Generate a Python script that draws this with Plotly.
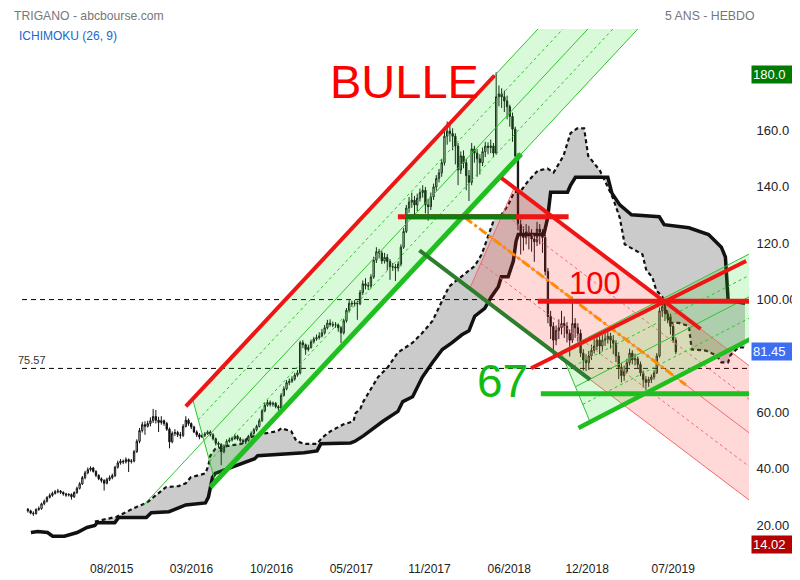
import plotly.graph_objects as go

# ---------------- weekly candles (bar index 0..238) ----------------
OPEN = [25.6, 25.0, 24.2, 24.0, 25.5, 25.8, 27.5, 28.4, 29.8, 30.5,
        31.2, 31.8, 32.0, 31.6, 31.0, 30.6, 30.8, 30.0, 31.5, 33.0,
        34.6, 36.8, 38.5, 39.6, 40.2, 39.0, 37.6, 36.4, 35.8, 34.8,
        36.2, 36.8, 37.5, 40.5, 42.0, 42.6, 42.4, 43.2, 42.5, 42.7,
        46.0, 49.7, 53.5, 55.6, 55.0, 56.0, 57.0, 58.5, 57.2, 56.4,
        57.0, 56.0, 54.0, 49.5, 52.5, 52.8, 52.0, 51.8, 55.0, 57.2,
        56.0, 54.8, 53.0, 52.0, 51.2, 51.8, 52.3, 53.0, 52.0, 50.6,
        49.0, 48.6, 46.0, 48.0, 49.7, 50.2, 50.7, 51.5, 50.6, 50.0,
        49.5, 50.0, 51.5, 52.5, 53.8, 55.0, 57.0, 60.5, 62.5, 63.5,
        62.8, 63.2, 62.0, 61.5, 66.0, 68.3, 70.5, 71.0, 71.8, 73.2,
        74.0, 84.7, 84.0, 82.3, 83.0, 85.0, 86.0, 86.5, 87.1, 88.2,
        90.0, 91.7, 91.2, 91.0, 91.0, 90.0, 88.2, 92.5, 96.2, 98.7,
        98.5, 98.8, 98.5, 102.5, 105.6, 105.0, 104.8, 108.0, 114.0, 117.0,
        116.5, 113.7, 115.0, 113.5, 111.6, 111.6, 111.2, 112.6, 118.6, 124.2,
        132.5, 134.6, 135.3, 133.6, 136.0, 138.0, 138.8, 133.6, 133.0, 136.5,
        140.0, 143.0, 145.0, 148.6, 158.0, 159.8, 159.0, 158.0, 154.5, 146.0,
        151.0, 148.6, 144.0, 141.6, 153.5, 152.0, 150.0, 148.6, 152.5, 154.5,
        154.0, 154.5, 152.0, 172.0, 173.0, 172.0, 170.5, 168.5, 165.0, 160.5,
        151.0, 126.6, 123.0, 122.0, 124.0, 123.0, 121.5, 120.5, 125.0, 124.0,
        122.0, 110.0, 94.0, 90.5, 85.6, 89.0, 90.0, 91.5, 90.5, 88.0,
        85.6, 91.5, 90.0, 88.0, 81.0, 78.6, 77.6, 80.0, 82.0, 83.5,
        85.6, 83.5, 85.6, 86.0, 87.0, 85.6, 84.5, 80.0, 76.0, 73.0,
        74.5, 77.6, 81.0, 78.6, 79.0, 77.0, 74.0, 71.6, 70.6, 71.6,
        72.5, 74.0, 80.0, 96.0, 97.5, 95.0, 94.0, 90.5, 85.6]
HIGH = [26.0, 25.4, 24.8, 25.9, 26.6, 27.9, 29.0, 30.2, 31.2, 31.8,
        32.4, 32.8, 32.4, 31.9, 31.4, 31.3, 31.2, 31.9, 33.6, 35.2,
        37.4, 39.2, 40.4, 40.8, 40.6, 39.4, 38.0, 36.9, 36.2, 36.8,
        37.6, 38.2, 41.0, 42.8, 43.4, 43.2, 44.0, 43.6, 43.4, 46.6,
        50.4, 54.4, 56.6, 56.8, 57.0, 58.2, 61.2, 60.8, 58.4, 58.6,
        57.4, 56.6, 54.6, 53.2, 54.0, 53.4, 53.0, 55.8, 58.6, 57.8,
        56.4, 55.2, 53.6, 52.6, 52.4, 53.0, 53.6, 53.6, 52.6, 51.0,
        49.6, 49.0, 48.6, 50.4, 51.0, 51.4, 52.2, 52.0, 51.2, 50.6,
        50.6, 52.0, 53.2, 54.4, 55.6, 57.8, 61.2, 63.4, 64.4, 64.2,
        63.8, 63.6, 62.6, 66.8, 69.2, 71.4, 72.0, 72.8, 74.0, 75.0,
        85.4, 85.6, 84.4, 84.0, 85.8, 86.8, 87.6, 88.4, 89.6, 91.0,
        92.8, 93.0, 92.2, 92.0, 91.4, 90.6, 93.2, 97.0, 99.8, 99.6,
        99.8, 99.6, 103.4, 106.8, 107.6, 106.2, 109.0, 115.2, 118.6, 118.0,
        117.4, 116.6, 116.2, 114.4, 113.0, 112.6, 113.6, 119.6, 125.4, 133.6,
        136.4, 138.0, 136.8, 137.6, 139.4, 140.6, 140.0, 135.8, 138.0, 141.2,
        144.2, 146.4, 150.0, 160.6, 163.2, 162.0, 160.8, 159.0, 155.6, 152.6,
        153.0, 150.0, 146.0, 155.6, 154.6, 153.4, 151.6, 154.0, 156.0, 155.8,
        156.8, 155.6, 180.7, 176.0, 175.0, 174.2, 172.4, 169.2, 166.4, 161.4,
        152.0, 128.4, 126.0, 126.8, 126.2, 125.0, 123.4, 127.6, 126.8, 125.0,
        123.0, 111.2, 96.0, 92.0, 90.8, 93.0, 96.0, 94.0, 92.0, 89.4,
        101.0, 93.4, 91.6, 89.4, 82.4, 80.6, 81.8, 84.0, 86.0, 87.2,
        87.0, 87.4, 88.4, 89.6, 88.2, 87.4, 85.6, 81.4, 77.4, 76.6,
        79.0, 82.6, 82.0, 80.8, 79.8, 78.0, 74.8, 72.8, 72.6, 73.4,
        75.0, 81.0, 97.2, 99.8, 98.4, 96.2, 95.0, 91.4, 86.6]
LOW = [24.4, 23.8, 23.2, 23.7, 25.0, 25.4, 27.0, 28.0, 29.4, 30.0,
       30.8, 31.2, 31.0, 30.4, 30.0, 30.1, 29.0, 29.6, 31.0, 32.6,
       34.2, 36.2, 38.0, 39.0, 38.6, 37.0, 35.9, 35.0, 32.2, 34.4,
       35.6, 36.2, 37.0, 40.0, 41.4, 41.6, 41.8, 38.8, 41.8, 42.2,
       45.6, 49.0, 52.8, 52.0, 54.6, 55.0, 56.2, 56.0, 53.0, 55.6,
       55.2, 53.4, 47.2, 49.0, 51.6, 51.2, 50.6, 51.2, 54.6, 55.2,
       54.0, 52.6, 51.2, 50.4, 50.8, 51.2, 52.0, 51.4, 50.0, 48.2,
       47.4, 41.2, 45.4, 47.6, 49.2, 49.6, 50.2, 50.0, 49.2, 48.8,
       48.8, 49.6, 51.0, 52.0, 53.2, 54.6, 56.6, 60.0, 62.0, 62.0,
       62.0, 61.4, 60.6, 61.0, 65.6, 67.8, 69.6, 70.4, 71.2, 72.6,
       73.4, 82.8, 80.4, 81.6, 82.6, 84.4, 85.4, 85.8, 86.6, 87.6,
       89.4, 90.4, 90.2, 90.0, 88.6, 84.6, 87.6, 91.8, 95.4, 97.4,
       97.6, 92.8, 98.0, 101.6, 103.6, 103.4, 104.0, 107.4, 113.0, 114.6,
       112.6, 112.8, 110.4, 107.0, 110.2, 106.6, 110.0, 111.8, 118.0, 123.6,
       130.8, 132.6, 129.6, 131.4, 134.8, 136.2, 130.6, 128.0, 131.8, 135.4,
       138.6, 141.6, 143.6, 147.6, 155.0, 156.0, 153.0, 148.0, 140.6, 144.6,
       146.6, 138.8, 135.0, 140.6, 148.6, 143.6, 144.4, 147.4, 150.6, 151.6,
       152.0, 150.6, 151.4, 168.6, 168.0, 166.6, 164.0, 161.4, 156.0, 149.6,
       124.6, 116.0, 117.4, 119.6, 117.8, 117.0, 113.4, 119.0, 119.6, 116.6,
       108.6, 91.6, 86.0, 80.4, 83.8, 86.0, 87.6, 86.4, 84.8, 79.8,
       84.6, 86.4, 85.0, 79.6, 74.8, 74.6, 75.0, 78.6, 80.8, 82.0,
       80.6, 81.8, 83.6, 84.4, 82.6, 80.6, 77.8, 71.8, 70.6, 71.2,
       73.8, 76.6, 77.0, 76.6, 75.6, 72.8, 68.8, 67.8, 69.0, 70.4,
       71.6, 73.6, 79.4, 93.8, 92.4, 91.6, 87.6, 84.6, 80.6]
CLOSE = [25.0, 24.2, 24.0, 25.5, 25.8, 27.5, 28.4, 29.8, 30.5, 31.2,
         31.8, 32.0, 31.6, 31.0, 30.6, 30.8, 30.0, 31.5, 33.0, 34.6,
         36.8, 38.5, 39.6, 40.2, 39.0, 37.6, 36.4, 35.8, 34.8, 36.2,
         36.8, 37.5, 40.5, 42.0, 42.6, 42.4, 43.2, 42.5, 42.7, 46.0,
         49.7, 53.5, 55.6, 55.0, 56.0, 57.0, 58.5, 57.2, 56.4, 57.0,
         56.0, 54.0, 49.5, 52.5, 52.8, 52.0, 51.8, 55.0, 57.2, 56.0,
         54.8, 53.0, 52.0, 51.2, 51.8, 52.3, 53.0, 52.0, 50.6, 49.0,
         48.6, 46.0, 48.0, 49.7, 50.2, 50.7, 51.5, 50.6, 50.0, 49.5,
         50.0, 51.5, 52.5, 53.8, 55.0, 57.0, 60.5, 62.5, 63.5, 62.8,
         63.2, 62.0, 61.5, 66.0, 68.3, 70.5, 71.0, 71.8, 73.2, 74.0,
         84.7, 84.0, 82.3, 83.0, 85.0, 86.0, 86.5, 87.1, 88.2, 90.0,
         91.7, 91.2, 91.0, 91.0, 90.0, 88.2, 92.5, 96.2, 98.7, 98.5,
         98.8, 98.5, 102.5, 105.6, 105.0, 104.8, 108.0, 114.0, 117.0, 116.5,
         113.7, 115.0, 113.5, 111.6, 111.6, 111.2, 112.6, 118.6, 124.2, 132.5,
         134.6, 135.3, 133.6, 136.0, 138.0, 138.8, 133.6, 133.0, 136.5, 140.0,
         143.0, 145.0, 148.6, 158.0, 159.8, 159.0, 158.0, 154.5, 146.0, 151.0,
         148.6, 144.0, 141.6, 153.5, 152.0, 150.0, 148.6, 152.5, 154.5, 154.0,
         154.5, 152.0, 172.0, 173.0, 172.0, 170.5, 168.5, 165.0, 160.5, 151.0,
         126.6, 123.0, 122.0, 124.0, 123.0, 121.5, 120.5, 125.0, 124.0, 122.0,
         110.0, 94.0, 90.5, 85.6, 89.0, 90.0, 91.5, 90.5, 88.0, 85.6,
         91.5, 90.0, 88.0, 81.0, 78.6, 77.6, 80.0, 82.0, 83.5, 85.6,
         83.5, 85.6, 86.0, 87.0, 85.6, 84.5, 80.0, 76.0, 73.0, 74.5,
         77.6, 81.0, 78.6, 79.0, 77.0, 74.0, 71.6, 70.6, 71.6, 72.5,
         74.0, 80.0, 96.0, 97.5, 95.0, 94.0, 90.5, 85.6, 81.45]
BAR = list(range(len(CLOSE)))

# ---------------- Ichimoku spans (bar index, price) ----------------
SPAN_B_X = [1.1, 3.6, 7.2, 9.1, 13.4, 18.1, 21.7, 24.6, 25.4, 31.9, 33.3, 43.5, 45.3, 51.8, 58.0,
            65.2, 66.3, 67.8, 68.8, 73.6, 79.7, 83.3, 84.4, 96.7, 101.4, 106.2, 107.6, 118.5, 120.3,
            123.2, 130.4, 135.9, 137.7, 141.3, 144.9, 148.6, 152.2, 155.8, 159.4, 162.0, 164.1, 167.8,
            170.3, 172.8, 173.9, 176.4, 178.3, 179.3, 180.1, 189.5, 190.9, 192.0, 198.2, 199.3, 201.1,
            213.0, 214.5, 217.4, 221.7, 231.9, 233.7, 242.8, 250.0, 252.5, 254.7, 256.2, 257.2, 263.4]
SPAN_B_Y = [17.3, 17.7, 17.3, 16.0, 16.0, 17.3, 19.1, 19.8, 20.8, 20.8, 22.6, 22.6, 24.3, 24.7, 27.1,
            27.8, 29.9, 36.9, 38.3, 40.0, 42.1, 43.5, 44.6, 45.3, 45.6, 46.3, 48.8, 49.1, 49.8,
            51.6, 56.8, 60.3, 63.8, 65.5, 72.5, 77.7, 82.3, 84.7, 87.5, 88.9, 94.1, 96.9,
            101.1, 104.6, 108.1, 108.1, 113.7, 120.7, 123.1, 123.1, 129.0, 138.1, 138.1, 140.6, 143.4,
            143.4, 137.8, 133.6, 130.1, 129.4, 126.6, 125.5, 123.1, 120.7, 118.6, 115.1, 99.7, 98.7]
SPAN_A_X = [24.6, 32.6, 39.9, 43.5, 47.1, 50.7, 55.4, 58.0, 59.8, 65.2, 66.3, 67.0, 68.8, 73.6, 78.6,
            80.8, 85.9, 91.7, 93.1, 96.7, 98.6, 101.4, 106.2, 108.0, 111.2, 113.4, 115.9, 119.6, 120.3,
            122.1, 123.2, 128.6, 132.2, 135.9, 141.3, 144.9, 148.6, 152.2, 154.7, 156.9, 162.0, 164.1,
            166.7, 169.2, 171.4, 173.9, 176.4, 178.6, 181.2, 183.7, 187.3, 190.9, 193.1, 196.7, 198.2,
            199.3, 201.8, 204.3, 205.8, 210.1, 212.7, 214.9, 217.4, 219.2, 223.6, 225.7, 227.2, 229.3,
            230.8, 233.0, 235.5, 239.1, 242.8, 243.8, 248.9, 252.9, 254.7, 257.2, 258.0, 260.9, 263.4]
SPAN_A_Y = [21.2, 22.9, 26.4, 27.8, 30.6, 33.4, 33.8, 34.8, 36.9, 38.3, 41.1, 44.6, 47.0, 48.1, 48.8,
            50.9, 52.3, 53.3, 54.3, 53.3, 49.8, 48.8, 48.8, 50.9, 53.3, 54.3, 55.7, 56.8, 59.6,
            61.3, 63.8, 72.5, 76.0, 81.2, 84.7, 88.2, 92.4, 99.7, 104.6, 106.4, 110.2, 111.9,
            116.1, 123.1, 129.0, 130.1, 133.6, 138.1, 138.8, 142.0, 145.8, 146.5, 145.1, 151.0, 155.6,
            159.1, 160.8, 160.8, 151.0, 145.8, 140.6, 136.0, 129.0, 119.6, 117.2, 116.1, 110.2, 108.1,
            103.2, 101.1, 91.7, 91.7, 90.6, 82.3, 81.9, 80.2, 77.7, 77.7, 80.2, 83.0, 83.0]

# ---------------- axis labels ----------------
X_TICK_POS = [30.8, 60.1, 89.5, 118.8, 147.5, 176.8, 205.4, 237.0]
X_TICK_TEXT = ["08/2015", "03/2016", "10/2016", "05/2017", "11/2017", "06/2018", "12/2018", "07/2019"]
Y_TICK_VALS = [20, 40, 60, 100, 120, 140, 160]
Y_TICK_TEXT = ["20.00", "40.00", "60.00", "100.00", "120.0", "140.0", "160.0"]
PRICE_HIGH = 180.0
PRICE_LAST = 81.45
PRICE_LOW = 14.02
REF_LEVELS = [100.0, 75.57]

# ---------------- hand-drawn analysis (bar index, price) ----------------
# channels: lower edge through two points, vertical width, [left-top i, left-bottom i, right i]
CH1_BOTTOM = [[67.0, 33.4], [181.2, 151.7]]
CH1_WIDTH = 38.0
CH1_EXTENT = [60.5, 68.8, 226.0]
CH1_CENTER_START = 42.4
CH1_RED_TOP = [58.0, 171.4]
CH1_GREEN_BOTTOM = [67.0, 181.2]

CH2_BOTTOM = [[143.8, 117.5], [264.86, 28.87]]
CH2_WIDTH = 47.7
CH2_EXTENT = [178.6, 162.3, 265.5]
CH2_RED_TOP = [173.9, 247.1]
CH2_DKGREEN_BOTTOM = [143.8, 206.5]
CH2_ORANGE_CENTER = [160.5, 241.7]

CH3_BOTTOM = [[202.2, 54.4], [264.86, 85.76]]
CH3_WIDTH = 30.4
CH3_EXTENT = [195.7, 206.5, 265.5]
CH3_GREEN_BOTTOM = [202.2, 265.5]

H_RED_TOP = [135.9, 198.6, 129.4]
H_GREEN_TOP = [138.8, 179.3, 129.4]
H_RED_100 = [187.3, 265.5, 99.4]
H_GREEN_67 = [188.4, 265.5, 66.6]
RED_RISING = [[184.8, 75.6], [263.8, 113.7]]

LABEL_BULLE = [138.4, 177.6]
LABEL_100 = [208.3, 105.6]
LABEL_67 = [174.3, 71.2]

X_RANGE = [-2.17, 264.86]
Y_RANGE = [9.33, 196.06]

FONT = "Arial, Liberation Sans, sans-serif"
fig = go.Figure()


def ch_price(ch_bottom, width, frac, i):
    (a0, p0), (a1, p1) = ch_bottom
    s = (p1 - p0) / (a1 - a0)
    return p0 + s * (i - a0) + width * frac


def add_line(xs, ys, color, width, dash="solid"):
    fig.add_trace(go.Scatter(x=xs, y=ys, mode="lines", line=dict(color=color, width=width, dash=dash),
                             hoverinfo="skip", showlegend=False))


# cloud (below traces)
pa = list(zip(SPAN_A_X, SPAN_A_Y))
pb = [(x, y) for x, y in zip(SPAN_B_X, SPAN_B_Y) if x >= SPAN_A_X[0]]
pts = pa + pb[::-1]
path = "M " + " L ".join(f"{x},{y}" for x, y in pts) + " Z"
fig.add_shape(type="path", path=path, xref="x", yref="y", fillcolor="#cbcbcb",
              line=dict(width=0), layer="below")

# candles
fig.add_trace(go.Candlestick(
    x=BAR, open=OPEN, high=HIGH, low=LOW, close=CLOSE,
    increasing=dict(line=dict(color="#111111", width=1), fillcolor="#ffffff"),
    decreasing=dict(line=dict(color="#111111", width=1), fillcolor="#111111"),
    whiskerwidth=0, showlegend=False, hoverinfo="skip"))

# spans
add_line(SPAN_A_X, SPAN_A_Y, "#111111", 2.2, "4px,3px")
add_line(SPAN_B_X, SPAN_B_Y, "#111111", 3.5)

# reference dashed levels
for lv in REF_LEVELS:
    add_line(X_RANGE, [lv, lv], "#000000", 1, "5px,4px")


def draw_channel(bottom, width, extent, fillcol, linecol, center_start=None):
    lt, lb, r = extent
    xs = [lt, lb, r, r, lt]
    ys = [ch_price(bottom, width, 1, lt), ch_price(bottom, width, 0, lb),
          ch_price(bottom, width, 0, r), ch_price(bottom, width, 1, r), ch_price(bottom, width, 1, lt)]
    fig.add_trace(go.Scatter(x=xs, y=ys, mode="lines", fill="toself", fillcolor=fillcol,
                             line=dict(color=linecol, width=1), hoverinfo="skip", showlegend=False))
    for frac, dash in [(0.25, "dot"), (0.75, "dot"), (0.5, "solid")]:
        start = lb + (lt - lb) * frac
        if frac == 0.5 and center_start is not None:
            start = center_start
        add_line([start, r], [ch_price(bottom, width, frac, start), ch_price(bottom, width, frac, r)],
                 linecol, 1, dash)


draw_channel(CH1_BOTTOM, CH1_WIDTH, CH1_EXTENT, "rgba(40,230,40,0.18)", "#2fc42f", CH1_CENTER_START)
draw_channel(CH2_BOTTOM, CH2_WIDTH, CH2_EXTENT, "rgba(255,40,40,0.18)", "#f26a6a")
draw_channel(CH3_BOTTOM, CH3_WIDTH, CH3_EXTENT, "rgba(40,230,40,0.18)", "#2fc42f")

# thick drawn lines
a, b = CH1_RED_TOP
add_line([a, b], [ch_price(CH1_BOTTOM, CH1_WIDTH, 1, a), ch_price(CH1_BOTTOM, CH1_WIDTH, 1, b)], "#f01515", 4)
a, b = CH1_GREEN_BOTTOM
add_line([a, b], [ch_price(CH1_BOTTOM, CH1_WIDTH, 0, a), ch_price(CH1_BOTTOM, CH1_WIDTH, 0, b)], "#1fbf1f", 5)

a, b = CH2_DKGREEN_BOTTOM
add_line([a, b], [ch_price(CH2_BOTTOM, CH2_WIDTH, 0, a), ch_price(CH2_BOTTOM, CH2_WIDTH, 0, b)], "#2c7d2c", 4)
a, b = CH2_ORANGE_CENTER
add_line([a, b], [ch_price(CH2_BOTTOM, CH2_WIDTH, 0.5, a), ch_price(CH2_BOTTOM, CH2_WIDTH, 0.5, b)],
         "#ff8c00", 3, "dashdot")
a, b = CH2_RED_TOP
add_line([a, b], [ch_price(CH2_BOTTOM, CH2_WIDTH, 1, a), ch_price(CH2_BOTTOM, CH2_WIDTH, 1, b)], "#f01515", 4)

a, b = CH3_GREEN_BOTTOM
add_line([a, b], [ch_price(CH3_BOTTOM, CH3_WIDTH, 0, a), ch_price(CH3_BOTTOM, CH3_WIDTH, 0, b)], "#1fbf1f", 4.5)

add_line([RED_RISING[0][0], RED_RISING[1][0]], [RED_RISING[0][1], RED_RISING[1][1]], "#f01515", 4)

for seg, col in [(H_RED_TOP, "#f01515"), (H_GREEN_TOP, "#0f7d0f"), (H_RED_100, "#f01515"),
                 (H_GREEN_67, "#1fbf1f")]:
    add_line([seg[0], seg[1]], [seg[2], seg[2]], col, 5)

# big labels
fig.add_annotation(x=LABEL_BULLE[0], y=LABEL_BULLE[1], text="BULLE", showarrow=False,
                   font=dict(family=FONT, size=47, color="#ff0000"))
fig.add_annotation(x=LABEL_100[0], y=LABEL_100[1], text="100", showarrow=False,
                   font=dict(family=FONT, size=31, color="#ff0000"))
fig.add_annotation(x=LABEL_67[0], y=LABEL_67[1], text="67", showarrow=False,
                   font=dict(family=FONT, size=46, color="#11bb11"))

# header texts
fig.add_annotation(xref="paper", yref="paper", x=0.0, y=1.0243, xanchor="left", yanchor="middle",
                   text="TRIGANO - abcbourse.com", showarrow=False, xshift=-10,
                   font=dict(family=FONT, size=12.2, color="#777777"))
fig.add_annotation(xref="paper", yref="paper", x=0.0068, y=0.9869, xanchor="left", yanchor="middle",
                   text="ICHIMOKU (26, 9)", showarrow=False, xshift=-10,
                   font=dict(family=FONT, size=12, color="#1a66cc"))
fig.add_annotation(xref="paper", yref="paper", x=1.0, y=1.0243, xanchor="right", yanchor="middle",
                   text="5 ANS - HEBDO", showarrow=False, xshift=8,
                   font=dict(family=FONT, size=12.3, color="#777777"))
fig.add_annotation(xref="paper", yref="y", x=0.0054, y=REF_LEVELS[1], xanchor="left", yanchor="bottom",
                   text=f"{REF_LEVELS[1]:.2f}", showarrow=False, xshift=-10,
                   font=dict(family=FONT, size=11, color="#333333"))

# boxed axis labels
for val, txt, col, ysh in [(PRICE_HIGH, "180.0", "#007a00", 0), (PRICE_LAST, f"{PRICE_LAST:.2f}", "#3d6ef2", 0),
                           (PRICE_LOW, f"{PRICE_LOW:.2f}", "#b30000", -3)]:
    fig.add_annotation(xref="paper", yref="y", x=1.0, y=val, xanchor="left", yanchor="middle",
                       text=txt, showarrow=False, bgcolor=col, width=45, height=15, align="left",
                       xshift=2, yshift=ysh, borderpad=1,
                       font=dict(family=FONT, size=13, color="#ffffff"))

fig.update_layout(
    width=800, height=580,
    margin=dict(l=14, r=49, t=21, b=24),
    paper_bgcolor="white", plot_bgcolor="white",
    showlegend=False,
    xaxis=dict(range=X_RANGE, type="linear", showgrid=False, zeroline=False, showline=False,
               tickmode="array", tickvals=X_TICK_POS, ticktext=X_TICK_TEXT,
               ticks="outside", ticklen=3, tickcolor="rgba(0,0,0,0)",
               tickfont=dict(family=FONT, size=12, color="#222222"),
               rangeslider=dict(visible=False), fixedrange=True),
    yaxis=dict(range=Y_RANGE, side="right", showgrid=False, zeroline=False, showline=False,
               tickmode="array", tickvals=Y_TICK_VALS, ticktext=Y_TICK_TEXT,
               ticks="outside", ticklen=4, tickcolor="rgba(0,0,0,0)",
               tickfont=dict(family=FONT, size=13, color="#222222"), fixedrange=True),
)

fig.write_html("out.html")
